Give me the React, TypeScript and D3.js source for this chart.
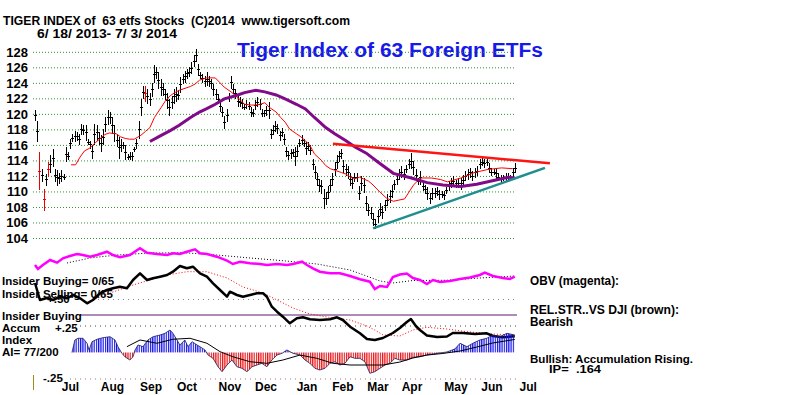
import * as d3 from 'd3';

const FONT = '"Liberation Sans", Arial, sans-serif';

// daily bars: [high, low]
const priceBars: [number, number][] = [
  [120.5, 119.2], [119.2, 116.4], [115.1, 110.2], [113.0, 111.3], [110.4, 107.6], [112.3, 110.8], [113.8, 111.9], [114.7, 112.5], [115.5, 113.2], [113.0, 111.3],
  [112.8, 110.8], [112.5, 111.0], [112.8, 111.3], [112.3, 111.5], [115.8, 113.8], [115.1, 114.1], [116.8, 115.6], [117.5, 116.4], [117.9, 116.4], [117.7, 116.6],
  [117.5, 116.0], [118.8, 117.3], [118.6, 117.3], [118.6, 116.6], [116.8, 116.0], [116.6, 115.6], [116.0, 114.3], [118.8, 116.0], [118.6, 116.6], [117.7, 116.0],
  [117.3, 115.1], [118.1, 116.0], [119.6, 117.7], [120.5, 118.6], [120.3, 118.8], [119.6, 117.5], [118.6, 116.4], [117.5, 115.8], [117.1, 114.3], [116.8, 115.1],
  [116.4, 115.6], [116.0, 114.1], [114.9, 114.1], [115.1, 114.1], [115.1, 114.0], [115.8, 115.1], [116.8, 115.6], [119.2, 116.8], [122.0, 119.8], [123.7, 122.0],
  [123.7, 121.6], [123.3, 121.3], [122.8, 121.1], [124.1, 122.2], [126.3, 124.1], [126.1, 124.6], [125.4, 123.3], [124.6, 122.4], [124.1, 122.4], [123.3, 121.8],
  [122.8, 120.7], [122.0, 119.8], [122.4, 120.7], [123.3, 121.3], [123.5, 121.6], [123.1, 121.8], [124.8, 122.8], [125.2, 123.9], [125.6, 124.1], [125.9, 124.6],
  [126.1, 124.8], [126.7, 125.2], [127.6, 126.1], [128.4, 126.7], [126.5, 125.0], [125.4, 124.6],
  [125.2, 124.1], [125.0, 123.5], [125.4, 123.7], [125.0, 123.5], [124.6, 123.3], [123.9, 122.4], [123.3, 121.8], [122.6, 121.3], [121.8, 120.3], [120.9, 119.6],
  [119.8, 118.1], [120.7, 119.0], [122.8, 121.6], [125.0, 123.3], [123.9, 122.6], [123.3, 122.0], [122.4, 120.9], [122.2, 120.9], [122.0, 120.7], [121.3, 120.5],
  [121.8, 120.7], [121.6, 120.5], [120.9, 119.6], [120.7, 119.6], [121.8, 120.5], [122.2, 120.9], [122.0, 120.5], [120.7, 119.6], [120.5, 119.6], [121.1, 119.8],
  [121.6, 119.4], [118.1, 116.8], [118.6, 117.3], [119.2, 117.7], [118.8, 117.5], [117.9, 116.6], [118.3, 117.1], [117.5, 116.0], [115.8, 114.5], [115.3, 114.1],
  [115.6, 114.3], [115.6, 114.5], [115.8, 113.4], [116.0, 114.5], [116.8, 115.8], [117.3, 116.0], [116.8, 115.8], [116.4, 114.7], [116.4, 115.3], [116.0, 114.7],
  [114.3, 112.8], [113.4, 111.7], [112.5, 110.8], [111.7, 110.0], [111.5, 109.8], [110.4, 107.8], [110.0, 108.3], [110.8, 109.1], [111.7, 110.0], [112.5, 110.8],
  [113.8, 112.1], [114.7, 113.0], [115.3, 113.8], [115.6, 114.3], [114.1, 112.5], [113.6, 112.1], [113.4, 111.7], [112.5, 110.8], [111.9, 110.4], [112.5, 111.3],
  [112.5, 111.3], [110.8, 108.9],
  [112.0, 110.1], [111.8, 109.9], [109.5, 107.5], [108.4, 106.9], [108.0, 106.5], [107.3, 105.6], [106.5, 105.2], [107.7, 106.0], [108.6, 106.9], [108.2, 106.5],
  [109.0, 107.5], [109.7, 108.2], [110.3, 108.6], [110.9, 109.2], [111.6, 110.3], [112.4, 110.9], [112.9, 111.6], [113.3, 111.8], [112.9, 111.6], [113.5, 112.4],
  [114.2, 112.9], [115.0, 112.9], [114.0, 112.2], [112.9, 111.4], [111.8, 110.9], [112.7, 110.9], [111.4, 110.1], [110.9, 109.7], [110.7, 109.0], [109.9, 108.4],
  [110.5, 109.0], [110.5, 109.2], [110.7, 109.5], [110.3, 109.0], [110.1, 109.2], [110.1, 109.0], [110.7, 109.7], [111.4, 110.1], [111.8, 110.5], [112.0, 110.7],
  [111.6, 110.5], [111.8, 110.5], [111.8, 110.3], [112.2, 110.7], [112.7, 111.4], [112.9, 111.6], [113.1, 111.8], [112.7, 111.4], [113.1, 111.8], [113.3, 112.0],
  [114.2, 112.9], [114.4, 113.3], [114.2, 113.1], [114.2, 113.3], [113.7, 112.4], [113.1, 112.0], [112.9, 112.2], [113.1, 111.6], [112.4, 111.4], [112.2, 111.2],
  [112.2, 111.4], [112.4, 111.4], [112.4, 111.6], [112.2, 111.4], [113.1, 111.8], [113.7, 112.4],
];
const redBars = [2, 4, 6, 50];

// the rest is [session position, value]
const redMA: [number, number][] = [
  [16, 113.5], [18, 113.5], [20, 114.5], [22, 115.3], [24, 115.6], [27, 116.4], [29, 116.9], [31, 117.4], [33, 117.6], [36, 117.5],
  [38, 117.1], [40, 116.9], [42, 116.8], [44, 116.8], [47, 117.3], [49, 117.8], [51, 118.3], [53, 119.6], [56, 120.9], [58, 121.8],
  [60, 122.4], [62, 122.8], [64, 123.1], [67, 123.4], [69, 123.6], [71, 123.9], [73, 124.4], [76, 124.7], [80, 124.7], [82, 124.1],
  [84, 123.5], [87, 122.9], [89, 122.4], [91, 121.9], [93, 121.3], [96, 121.2], [98, 121.2], [100, 121.3], [102, 121.5], [104, 120.9],
  [107, 120.3], [109, 119.6], [111, 119.0], [113, 118.1], [116, 117.5], [118, 117.1], [120, 116.6], [122, 116.0], [124, 114.9], [127, 114.1],
  [129, 113.4], [131, 113.0], [133, 112.8], [136, 112.5], [138, 112.3], [140, 111.9], [142, 111.7], [144, 111.9], [148, 111.4], [150, 110.9],
  [153, 110.0], [156, 109.2], [159, 108.8], [164, 109.1], [168, 110.9], [171, 111.8], [176, 111.8], [180, 111.6], [183, 111.3], [189, 111.8],
  [195, 112.5], [201, 112.9], [207, 113.1], [212, 113.0],
];
const purpleMA: [number, number][] = [
  [51, 116.5], [56, 117.3], [60, 117.9], [64, 118.6], [69, 119.6], [73, 120.3], [76, 120.7], [80, 121.3], [84, 122.0], [89, 122.4],
  [93, 122.8], [98, 123.1], [102, 122.9], [107, 122.5], [111, 122.0], [116, 121.3], [120, 120.7], [124, 119.6], [129, 118.3], [133, 117.5],
  [138, 116.6], [142, 115.8], [147, 115.0], [152, 113.9], [159, 112.4], [167, 111.8], [174, 111.2], [181, 110.9], [189, 110.7], [196, 111.0],
  [204, 111.5], [210, 111.9], [213, 111.8],
];
const resistance: [number, number][] = [[132.2, 116.2], [228.5, 113.7]];
const support: [number, number][] = [[150, 105.3], [226.3, 113.1]];

const obv: [number, number][] = [
  [0, 35], [1.3, 31], [3.5, 35], [6.7, 40], [9.8, 37.3], [12.4, 41.7], [15.5, 44], [18.6, 46], [21.3, 45], [24.4, 43.3],
  [27.5, 45], [31.9, 48.3], [34.6, 45], [37.7, 42.7], [42.1, 45], [46.6, 51.7], [49.7, 47.3], [54.1, 46], [58.6, 45], [61.2, 46.7],
  [64.3, 46], [67.4, 48.3], [71, 50.7], [73.2, 46.7], [76.3, 46], [80.7, 43.3], [85.2, 39.3], [87.8, 36], [91, 38.3], [95.4, 36.7],
  [99.8, 36], [102.9, 35], [107.4, 36], [111.8, 35], [114.5, 36], [118.5, 38.3], [120.7, 35], [123.3, 31.7], [126.4, 28.3], [130.9, 26.7],
  [135.3, 26.7], [139.8, 24], [144.2, 20.7], [148.6, 18.3], [150.8, 11], [153.1, 14], [156.2, 13], [158.8, 23], [161.9, 25.5], [165, 26.5],
  [167.7, 22], [170.8, 20], [173.9, 16], [176.6, 20], [179.7, 18], [184.1, 19], [188.6, 21], [193, 22.5], [197.4, 25], [199.6, 27.3],
  [203.2, 24], [207.6, 22], [210.7, 21], [212.9, 23.3],
];
const obvMA: [number, number][] = [
  [14.2, 37], [24.4, 42], [36.4, 45], [51, 47], [65.7, 47.3], [80.7, 45], [95.4, 42], [110, 39.3], [125.1, 36], [139.8, 30],
  [153.1, 19], [158.8, 17], [167.7, 19.5], [182.8, 19.7], [197.4, 22], [212.9, 24],
];
const relStr: [number, number][] = [
  [0, 67], [2.2, 50], [5.3, 52], [8, 50], [11.1, 53.3], [14.2, 51.7], [16.9, 55], [20, 51.7], [23.1, 46.7], [25.7, 50],
  [28.8, 56.7], [31.9, 60], [34.6, 61.7], [37.7, 63.3], [40.8, 61.7], [43.5, 70], [46.6, 76.7], [49.7, 70], [52.4, 71.7], [55.5, 73.3],
  [58.6, 75], [61.2, 78.3], [64.3, 84], [67.4, 81.7], [70.1, 83.3], [73.2, 76.7], [76.3, 73.3], [79, 66.7], [82.1, 60], [85.2, 53.3],
  [86.5, 58.3], [89.6, 55], [92.3, 53.3], [95.4, 55], [98.5, 56.7], [101.2, 56.7], [102.9, 53.3], [105.1, 43.3], [107.4, 38.3], [110, 33.3],
  [113.1, 26.7], [116.2, 31.7], [118.9, 32.7], [122, 30.7], [126.4, 30], [130.9, 30.7], [134, 32.7], [136.6, 30], [139.8, 23.3], [144.2, 16.7],
  [147.3, 11], [150.8, 10], [154.4, 12], [158.8, 17], [161.9, 22], [165, 28], [166.8, 31], [169, 24], [170.8, 20], [173.9, 14.5],
  [178.4, 13], [182.8, 13.5], [185.4, 17], [189.9, 17], [195.2, 16], [200.5, 16.7], [203.2, 14], [207.6, 12.7], [212.9, 13.7],
];
const relStrMA: [number, number][] = [
  [25.7, 50], [33.3, 57], [43.5, 65], [51, 70], [58.6, 75], [67.4, 78.3], [76.3, 78.3], [85.2, 72], [92.3, 63], [101.2, 57],
  [107.4, 50], [114.5, 42], [122, 36], [132.2, 32], [139.8, 30], [147.3, 24], [150.8, 20], [154.4, 15], [161.9, 14], [167.7, 20],
  [173.9, 22.7], [182.8, 21], [191.7, 18.3], [203.2, 16], [212.9, 15],
];
const accum: [number, number][] = [
  [16.4, 0], [17.7, 0.118], [19.1, 0.134], [21.3, 0.134], [23.1, 0.087], [24, 0.024], [25.3, 0.102], [27.5, 0.125], [30.2, 0.14], [33.3, 0.149],
  [35.5, 0.118], [36.8, 0.055], [38.6, -0.008], [39.9, -0.04], [42.1, -0.071], [43.5, -0.04], [44.4, 0.024], [45.7, 0.071], [47.9, 0.055], [50.1, 0.118],
  [52.4, 0.149], [55.5, 0.165], [57.7, 0.181], [59.9, 0.212], [61.2, 0.181], [63, 0.118], [64.3, 0.071], [66.5, 0.118], [67.9, 0.055], [69.7, 0.102],
  [71.9, 0.071], [73.2, 0.055], [75.4, 0.024], [76.8, -0.024], [79, -0.055], [81.2, -0.134], [83, -0.181], [85.2, -0.118], [87.4, -0.071], [89.6, -0.134],
  [91.8, -0.149], [94.1, -0.181], [96.3, -0.134], [98.5, -0.118], [100.7, -0.102], [102.9, -0.134], [105.1, -0.071], [107.4, -0.024], [109.6, -0.008], [111.8, 0.024],
  [114.5, -0.008], [117.6, -0.024], [119.8, -0.071], [122, -0.102], [124.2, -0.149], [126.4, -0.165], [128.7, -0.149], [130.9, -0.102], [133.1, -0.087], [135.3, -0.118],
  [137.5, -0.102], [139.8, -0.04], [142, -0.055], [144.2, -0.055], [146.4, -0.087], [148.6, -0.196], [150.8, -0.181], [153.1, -0.149], [155.3, -0.118], [157.5, -0.102],
  [159.7, -0.055], [161.9, -0.071], [165, -0.071], [167.7, -0.045], [170.8, -0.04], [173.9, -0.024], [178.4, -0.008], [182.8, 0.005], [186.3, 0.033], [188.6, 0.087],
  [191.7, 0.055], [194.3, 0.087], [197.4, 0.118], [200.5, 0.134], [203.2, 0.165], [206.3, 0.149], [209.4, 0.181], [212.9, 0.165],
];
const accumMA: [number, number][] = [
  [40.8, 0.055], [46.6, 0.118], [54.1, 0.087], [61.2, 0.125], [68.8, 0.134], [76.3, 0.087], [82.1, 0.008], [87.8, -0.04], [95.4, -0.087], [102.9, -0.102],
  [110, -0.071], [117.6, -0.024], [125.1, -0.055], [132.2, -0.102], [139.8, -0.118], [147.3, -0.118], [154.4, -0.118], [161.9, -0.09], [167.7, -0.052], [173.9, -0.024],
  [181, -0.009], [188.6, 0.014], [196.1, 0.052], [203.2, 0.09], [212.9, 0.123],
];

const priceTicks = d3.range(104, 129, 2);
const months = ['Jul', 'Aug', 'Sep', 'Oct', 'Nov', 'Dec', 'Jan', 'Feb', 'Mar', 'Apr', 'May', 'Jun', 'Jul'];
const monthPos = [15.7, 34.4, 51.5, 67.4, 86.5, 102.5, 120.7, 136.6, 152.2, 167.3, 186.8, 202.8, 218.9];

export default function App() {
  const width = 800;
  const height = 395;

  const x = d3.scaleLinear().domain([0, 213]).range([35, 515]);
  // my bar reading came out a bit denser on the left half
  const barPos = d3.scaleLinear().domain([0, 147, 213]).range([0, 143.7, 213]);
  const y = d3.scaleLinear().domain([104, 128]).range([238.5, 52.3]);
  const obvY = d3.scaleLinear().domain([0, 50]).range([300, 250]);
  const rsY = d3.scaleLinear().domain([0, 100]).range([350, 250]);
  const aiY = d3.scaleLinear().domain([-0.25, 0.25]).range([379, 326]);

  const mk = (sy: d3.ScaleLinear<number, number>) =>
    d3.line<[number, number]>().x((d) => x(d[0])).y((d) => sy(d[1]));
  const priceLine = mk(y);
  const obvLine = mk(obvY);
  const rsLine = mk(rsY);
  const aiLine = mk(aiY);
  const aiArea = d3
    .area<[number, number]>()
    .x((d) => x(d[0]))
    .y0(aiY(0))
    .y1((d) => aiY(d[1]));

  const step = x(1) - x(0);
  const gridX0 = 33;
  const gridX1 = 515;
  const bold = { fontFamily: FONT, fontWeight: 700 as const };
  const pre = { whiteSpace: 'pre' as const };

  return (
    <div style={{ position: 'absolute', left: 0, top: 0 }}>
      <svg width={width} height={height} style={{ display: 'block', background: '#fff' }}>
        <defs>
          <pattern id="blueStripe" patternUnits="userSpaceOnUse" x={x(0)} width={step} height={4}>
            <rect x={0} y={0} width={1.2} height={4} fill="#1010f0" />
          </pattern>
          <pattern id="redStripe" patternUnits="userSpaceOnUse" x={x(0)} width={step} height={4}>
            <rect x={0} y={0} width={1.2} height={4} fill="#f01010" />
          </pattern>
          <clipPath id="aiPos">
            <rect x={0} y={0} width={width} height={aiY(0)} />
          </clipPath>
          <clipPath id="aiNeg">
            <rect x={0} y={aiY(0)} width={width} height={height} />
          </clipPath>
        </defs>

        {/* header */}
        <text x={3} y={25} {...bold} fontSize={12} style={pre} textLength={347} lengthAdjust="spacingAndGlyphs">
          TIGER INDEX of  63 etfs Stocks  (C)2014  www.tigersoft.com
        </text>
        <text x={37} y={37.5} {...bold} fontSize={12} style={pre} textLength={140} lengthAdjust="spacingAndGlyphs">
          6/ 18/ 2013- 7/ 3/ 2014
        </text>
        <text x={237} y={56.5} {...bold} fontSize={20} fill="#1818e8" textLength={306} lengthAdjust="spacingAndGlyphs">
          Tiger Index of 63 Foreign ETFs
        </text>

        {/* price grid + labels */}
        {priceTicks.map((t) => (
          <g key={t}>
            <line x1={gridX0} x2={gridX1} y1={y(t)} y2={y(t)} stroke="#2e8f2e" strokeWidth={1} strokeDasharray="1 2" />
            <text x={28} y={y(t) + 4.5} textAnchor="end" {...bold} fontSize={13}>
              {t}
            </text>
          </g>
        ))}

        {/* price bars */}
        <g shapeRendering="crispEdges">
          {priceBars.map((b, i) => {
            const cx = Math.round(x(barPos(i))) + 0.5;
            const c = redBars.includes(i) ? '#f00000' : '#000';
            const mid = y((b[0] + b[1]) / 2);
            return (
              <g key={i} stroke={c}>
                <line x1={cx} x2={cx} y1={y(b[0])} y2={y(b[1])} strokeWidth={1.3} />
                <line x1={cx - 1.5} x2={cx + 1.5} y1={mid} y2={mid} strokeWidth={1} />
              </g>
            );
          })}
        </g>

        {/* moving averages and trend lines */}
        <path d={priceLine(redMA) || ''} fill="none" stroke="#ff0000" strokeWidth={1} />
        <path d={priceLine(purpleMA) || ''} fill="none" stroke="#800a88" strokeWidth={3} />
        <path d={priceLine(resistance) || ''} fill="none" stroke="#ff1414" strokeWidth={2.5} />
        <path d={priceLine(support) || ''} fill="none" stroke="#208e8e" strokeWidth={2.5} />

        {/* OBV panel */}
        <path d={obvLine(obvMA) || ''} fill="none" stroke="#000" strokeWidth={1} strokeDasharray="1 2" />
        <path d={obvLine(obv) || ''} fill="none" stroke="#ff00ff" strokeWidth={2.5} />

        {/* reference lines */}
        <line x1={93} x2={517} y1={aiY(0.5)} y2={aiY(0.5)} stroke="#8a8a8a" strokeDasharray="1 4" />
        <line x1={80} x2={517} y1={315} y2={315} stroke="#5a1a6a" strokeWidth={1} />
        <line x1={75} x2={517} y1={aiY(0.25)} y2={aiY(0.25)} stroke="#444" strokeDasharray="1 4" />
        <line x1={70} x2={517} y1={aiY(-0.25)} y2={aiY(-0.25)} stroke="#b07070" strokeDasharray="1 4" />

        {/* relative strength */}
        <path d={rsLine(relStrMA) || ''} fill="none" stroke="#ff0000" strokeWidth={1} strokeDasharray="1 2" />
        <path d={rsLine(relStr) || ''} fill="none" stroke="#000" strokeWidth={2.5} strokeLinejoin="round" />

        {/* accumulation index */}
        <path d={aiArea(accum) || ''} fill="url(#blueStripe)" clipPath="url(#aiPos)" />
        <path d={aiArea(accum) || ''} fill="url(#redStripe)" clipPath="url(#aiNeg)" />
        <path d={aiLine(accum) || ''} fill="none" stroke="#1a1a50" strokeWidth={0.8} />
        <path d={aiLine(accumMA) || ''} fill="none" stroke="#000" strokeWidth={1} />

        <line x1={33.5} x2={33.5} y1={375} y2={390} stroke="#a08a20" strokeWidth={1} />

        {/* left panel labels */}
        <text x={47} y={303} {...bold} fontSize={11.5}>+.50</text>
        <text x={2} y={284.5} {...bold} fontSize={11.5}>Insider Buying= 0/65</text>
        <text x={2} y={297.5} {...bold} fontSize={11.5}>Insider Selling= 0/65</text>
        <text x={2} y={320} {...bold} fontSize={11.5}>Insider Buying</text>
        <text x={2} y={331.5} {...bold} fontSize={11.5}>Accum</text>
        <text x={55} y={331.5} {...bold} fontSize={11.5}>+.25</text>
        <text x={2} y={343.5} {...bold} fontSize={11.5}>Index</text>
        <text x={2} y={355.5} {...bold} fontSize={11.5}>AI= 77/200</text>
        <text x={43} y={382} {...bold} fontSize={11.5}>-.25</text>

        {/* month axis */}
        {months.map((m, i) => (
          <text key={i} x={x(monthPos[i])} y={391} textAnchor="middle" {...bold} fontSize={12}>
            {m}
          </text>
        ))}

        {/* right side notes */}
        <text x={530} y={285} {...bold} fontSize={12} textLength={89} lengthAdjust="spacingAndGlyphs">OBV (magenta):</text>
        <text x={530} y={314} {...bold} fontSize={12} textLength={149} lengthAdjust="spacingAndGlyphs">REL.STR..VS DJI (brown):</text>
        <text x={530} y={325.5} {...bold} fontSize={12} textLength={43} lengthAdjust="spacingAndGlyphs">Bearish</text>
        <text x={530} y={363} {...bold} fontSize={11.5} textLength={163} lengthAdjust="spacingAndGlyphs">Bullish: Accumulation Rising.</text>
        <text x={549} y={372.5} {...bold} fontSize={11.5} style={pre} textLength={52} lengthAdjust="spacingAndGlyphs">IP=  .164</text>
      </svg>
    </div>
  );
}
